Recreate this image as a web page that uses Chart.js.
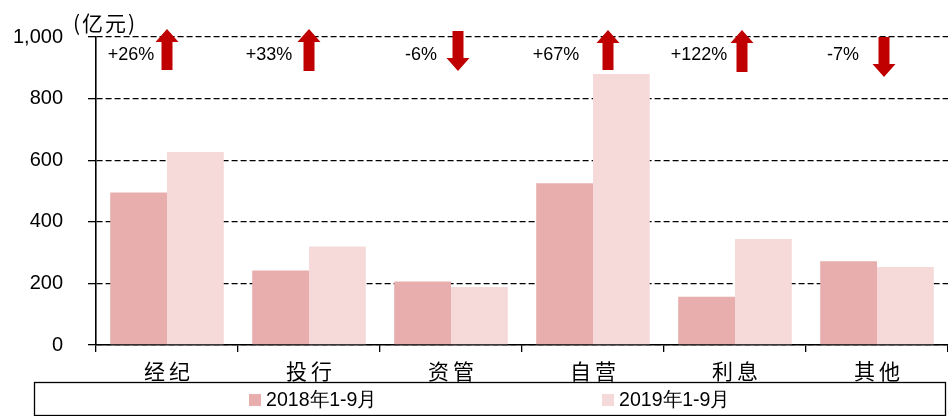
<!DOCTYPE html>
<html>
<head>
<meta charset="utf-8">
<script src="https://cdn.jsdelivr.net/npm/chart.js@4/dist/chart.umd.min.js"></script>
<style>
  html, body { margin: 0; padding: 0; background: #fff; }
  #wrap { width: 948px; height: 416px; position: relative; }
</style>
</head>
<body>
<div id="wrap"><canvas id="c" width="948" height="416"></canvas></div>
<script>
// ---- data ----
const categories = ['经纪', '投行', '资管', '自营', '利息', '其他'];
const seriesNames = ['2018年1-9月', '2019年1-9月'];
const values2018 = [495, 242, 206, 525, 157, 272];
const values2019 = [627, 320, 188, 880, 344, 253];
const changeLabels = ['+26%', '+33%', '-6%', '+67%', '+122%', '-7%'];
const unitLabel = '(亿元)';
const yMin = 0, yMax = 1000, yStep = 200;

// ---- styles ----
const colors = ['#E8AEAD', '#F6DADA'];
const arrowColor = '#C00000';
const latin = "'Liberation Sans', Arial, sans-serif";
const cjk = "'Noto Sans CJK SC', sans-serif";

// annotation layout (pixel offsets relative to category centre / chart top)
const annoLayout = {
  arrowDx: [0, 0, 7, 15, 7, 7],
  textDx: [-36, -40, -30, -37, -36, -34],
  upTop: [29, 29, 0, 30, 30, 0],
  upBottom: [70, 71, 0, 70, 72, 0],
  downTop: [0, 0, 31, 0, 0, 37],
  downTip: [0, 0, 71, 0, 0, 77]
};

const annotationPlugin = {
  id: 'anno',
  afterDatasetsDraw(chart) {
    const ctx = chart.ctx;
    const x = chart.scales.x;
    ctx.save();
    changeLabels.forEach((lab, i) => {
      const cx = x.getPixelForValue(i);
      const ax = cx + annoLayout.arrowDx[i];
      const tx = cx + annoLayout.textDx[i];
      ctx.fillStyle = '#000';
      ctx.font = "18px " + latin;
      ctx.textAlign = 'center';
      ctx.textBaseline = 'middle';
      ctx.fillText(lab, tx, 55);
      const hw = 11.5, sw = 5.5, head = 13;
      ctx.fillStyle = arrowColor;
      ctx.beginPath();
      if (lab.trim().startsWith('-')) {
        const top = annoLayout.downTop[i], tip = annoLayout.downTip[i];
        ctx.moveTo(ax - sw, top);
        ctx.lineTo(ax + sw, top);
        ctx.lineTo(ax + sw, tip - head);
        ctx.lineTo(ax + hw, tip - head);
        ctx.lineTo(ax, tip);
        ctx.lineTo(ax - hw, tip - head);
        ctx.lineTo(ax - sw, tip - head);
      } else {
        const top = annoLayout.upTop[i], bot = annoLayout.upBottom[i];
        ctx.moveTo(ax, top);
        ctx.lineTo(ax + hw, top + head);
        ctx.lineTo(ax + sw, top + head);
        ctx.lineTo(ax + sw, bot);
        ctx.lineTo(ax - sw, bot);
        ctx.lineTo(ax - sw, top + head);
        ctx.lineTo(ax - hw, top + head);
      }
      ctx.closePath();
      ctx.fill();
    });
    ctx.restore();
  },
  afterDraw(chart) {
    const ctx = chart.ctx;
    ctx.save();
    // unit label
    ctx.fillStyle = '#000';
    ctx.font = "21px " + cjk;
    ctx.textAlign = 'left';
    ctx.textBaseline = 'middle';
    if ('letterSpacing' in ctx) ctx.letterSpacing = '2px';
    ctx.fillText(unitLabel, 73, 23);
    if ('letterSpacing' in ctx) ctx.letterSpacing = '0px';
    // legend box
    ctx.strokeStyle = '#000';
    ctx.lineWidth = 1.3;
    ctx.strokeRect(34.5, 382.5, 911, 33);
    // legend items
    const itemX = [249, 602];
    seriesNames.forEach((name, i) => {
      ctx.fillStyle = colors[i];
      ctx.fillRect(itemX[i], 394, 12, 12);
      ctx.fillStyle = '#000';
      ctx.font = "20px " + latin;
      ctx.textBaseline = 'middle';
      ctx.textAlign = 'left';
      const w = ctx.measureText(name).width;
      const sx = 111 / w;
      ctx.save();
      ctx.translate(itemX[i] + 17, 400);
      ctx.scale(sx, 1);
      ctx.fillText(name, 0, 0);
      ctx.restore();
    });
    ctx.restore();
  }
};

new Chart(document.getElementById('c'), {
  type: 'bar',
  data: {
    labels: categories,
    datasets: [
      { label: seriesNames[0], data: values2018, backgroundColor: colors[0], borderWidth: 0 },
      { label: seriesNames[1], data: values2019, backgroundColor: colors[1], borderWidth: 0 }
    ]
  },
  options: {
    responsive: false,
    animation: false,
    events: [],
    layout: { padding: { top: 37, right: 0, bottom: 0, left: 0 } },
    plugins: {
      legend: { display: false },
      tooltip: { enabled: false },
      title: { display: false }
    },
    datasets: { bar: { categoryPercentage: 0.8, barPercentage: 1.0 } },
    scales: {
      x: {
        offset: true,
        grid: { display: true, drawOnChartArea: false, offset: true, color: '#000', lineWidth: 1.3, tickLength: 7 },
        border: { display: true, color: '#000', width: 1.6 },
        ticks: {
          color: '#000', font: { family: cjk, size: 21 }, padding: 6,
          callback(v) { return this.getLabelForValue(v).split('').join('\u2009'); }
        },
        afterFit(scale) { scale.height = 71; }
      },
      y: {
        min: yMin, max: yMax,
        grid: { color: '#000', lineWidth: 1.3, tickLength: 8 },
        border: { display: true, color: '#000', width: 1.6, dash: [6, 3] },
        ticks: {
          stepSize: yStep, color: '#000', padding: 25,
          font: { family: latin, size: 20 },
          callback: v => v.toLocaleString('en-US')
        },
        afterFit(scale) { scale.width = 96; }
      }
    }
  },
  plugins: [annotationPlugin]
});
</script>
</body>
</html>
